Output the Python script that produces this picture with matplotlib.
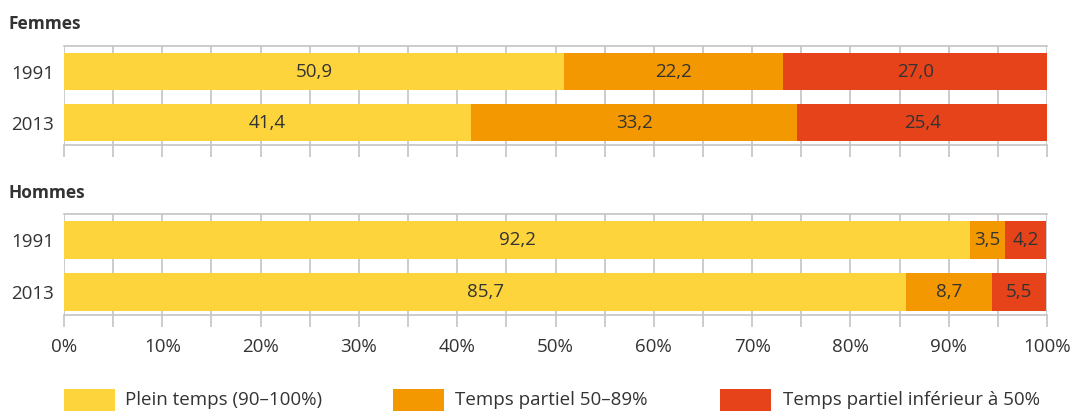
import numpy as np
import matplotlib.pyplot as plt
from matplotlib.patches import Rectangle

# ---------------------------------------------------------
# Data (percentages)
# ---------------------------------------------------------

years = ["1991", "2013"]

femmes_plein = [50.9, 41.4]
femmes_partiel_50_89 = [22.2, 33.2]
femmes_partiel_moins_50 = [27.0, 25.4]

hommes_plein = [92.2, 85.7]
hommes_partiel_50_89 = [3.5, 8.7]
hommes_partiel_moins_50 = [4.2, 5.5]

categories = [
    "Plein temps (90–100%)",
    "Temps partiel 50–89%",
    "Temps partiel inférieur à 50%",
]

colors = ["#FDD43C", "#F39800", "#E6431A"]
grid_col = "#c4c4c4"
text_col = "#333333"

plt.rcParams["font.family"] = ["Open Sans", "DejaVu Sans"]

W, H = 1075, 411
fig = plt.figure(figsize=(W / 100, H / 100), dpi=100)


def px_axes(x0, y_top, x1, y_bot):
    return fig.add_axes([x0 / W, 1 - y_bot / H, (x1 - x0) / W, (y_bot - y_top) / H])


def draw_panel(ax, series, show_labels):
    left = np.zeros(len(years))
    y = np.arange(len(years))
    for vals, col in zip(series, colors):
        vals = np.array(vals)
        ax.barh(y, vals, left=left, height=0.73, color=col, zorder=2)
        for yi, l, v in zip(y, left, vals):
            ax.text(l + v / 2, yi, f"{v:.1f}".replace(".", ","),
                    ha="center", va="center", fontsize=13.5, color=text_col, zorder=3)
        left += vals

    ax.set_xlim(0, 100)
    ax.set_ylim(1.44, -0.5)
    ax.set_yticks(y, years)
    ax.tick_params(axis="y", length=0, pad=7, labelsize=13.5, labelcolor=text_col)

    ax.set_xticks(np.arange(0, 101, 5))
    ax.set_xticklabels([f"{t}%" if t % 10 == 0 else "" for t in range(0, 101, 5)])
    ax.tick_params(axis="x", length=8.5, width=1.2, color=grid_col, pad=8,
                   labelsize=13.5, labelcolor=text_col, labelbottom=show_labels)
    ax.grid(axis="x", color=grid_col, linewidth=1.2)
    ax.set_axisbelow(True)

    for side in ["left", "right"]:
        ax.spines[side].set_visible(False)
    for side in ["top", "bottom"]:
        ax.spines[side].set_color(grid_col)
        ax.spines[side].set_linewidth(1.2)


ax_f = px_axes(64, 46, 1047, 145)
draw_panel(ax_f, [femmes_plein, femmes_partiel_50_89, femmes_partiel_moins_50], False)

ax_h = px_axes(64, 214, 1047, 315)
draw_panel(ax_h, [hommes_plein, hommes_partiel_50_89, hommes_partiel_moins_50], True)

fig.text(9 / W, 1 - 24 / H, "Femmes", fontsize=12.5, fontweight="bold",
         color=text_col, va="center", ha="left")
fig.text(9 / W, 1 - 193 / H, "Hommes", fontsize=12.5, fontweight="bold",
         color=text_col, va="center", ha="left")

# Legend
for x_patch, x_text, label, col in zip([64, 393, 720], [125, 455, 783], categories, colors):
    fig.add_artist(Rectangle((x_patch / W, 0), 51 / W, (H - 389) / H,
                             transform=fig.transFigure, color=col, lw=0))
    fig.text(x_text / W, 1 - 400 / H, label, fontsize=13.5, color=text_col,
             va="center", ha="left")

plt.savefig("out.png", dpi=100)
